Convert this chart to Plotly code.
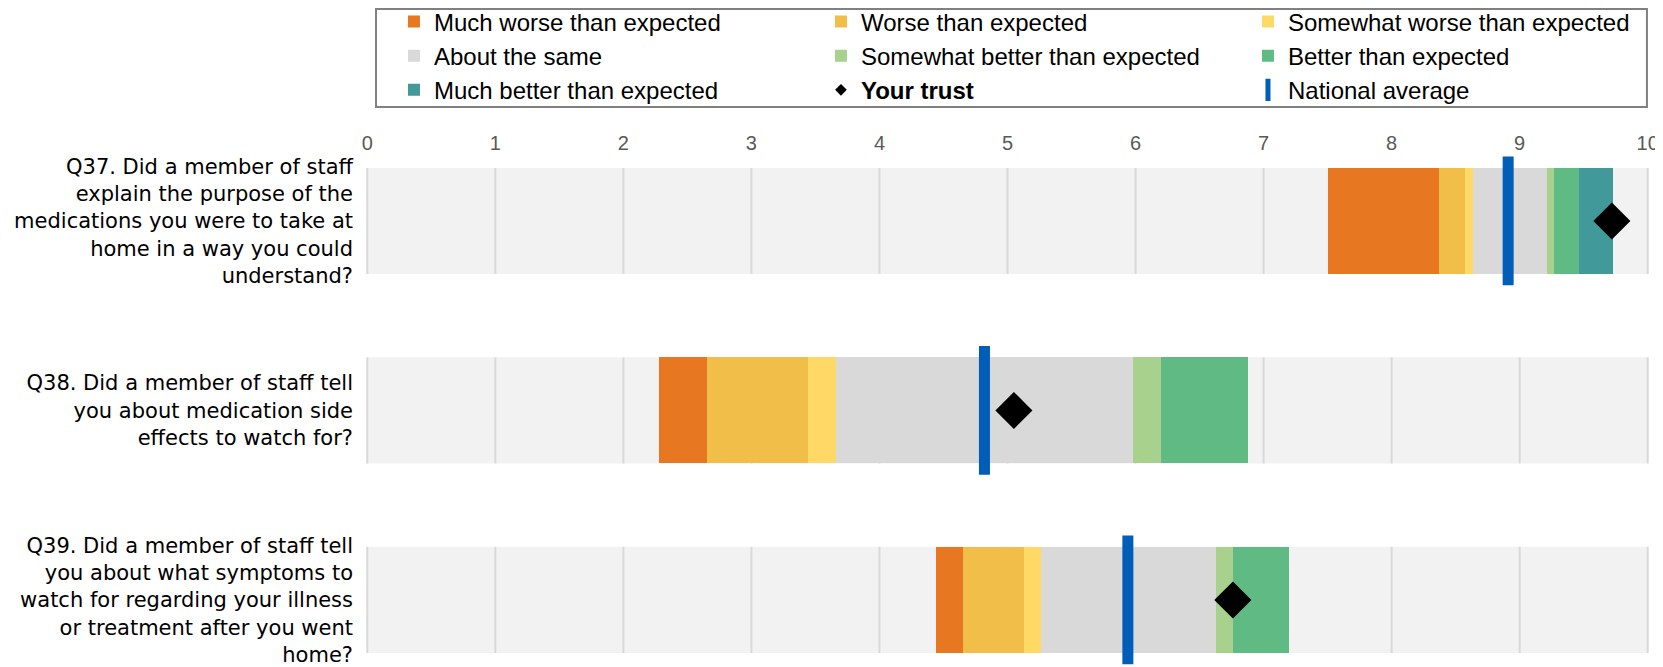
import plotly.graph_objects as go

# ---------------- data ----------------
questions = [
    "Q37. Did a member of staff<br>explain the purpose of the<br>medications you were to take at<br>home in a way you could<br>understand?",
    "Q38. Did a member of staff tell<br>you about medication side<br>effects to watch for?",
    "Q39. Did a member of staff tell<br>you about what symptoms to<br>watch for regarding your illness<br>or treatment after you went<br>home?",
]
band_start = [7.50, 2.28, 4.44]          # where the 'much worse' band begins
much_worse = [0.87, 0.37, 0.21]
worse = [0.20, 0.79, 0.48]
somewhat_worse = [0.065, 0.22, 0.13]
about_same = [0.575, 2.32, 1.365]
somewhat_better = [0.055, 0.22, 0.135]
better = [0.20, 0.675, 0.44]
much_better = [0.265, 0.0, 0.0]
your_trust = [9.72, 5.05, 6.76]
national_average = [8.91, 4.82, 5.94]
x_ticks = list(range(0, 11))

series = [
    ("Much worse than expected", much_worse, "#E87722"),
    ("Worse than expected", worse, "#F1BE4A"),
    ("Somewhat worse than expected", somewhat_worse, "#FFD966"),
    ("About the same", about_same, "#D9D9D9"),
    ("Somewhat better than expected", somewhat_better, "#A9D18E"),
    ("Better than expected", better, "#5FBB83"),
    ("Much better than expected", much_better, "#41999A"),
]

FONT = "Liberation Sans, Arial, sans-serif"
LABEL_FONT = "DejaVu Sans, Arial, sans-serif"
BAR_W = 0.56
LINE_H = 0.34
ypos = list(range(len(questions)))

fig = go.Figure()

base = list(band_start)
for name, vals, col in series:
    fig.add_trace(go.Bar(
        y=ypos, x=vals, base=list(base), orientation="h", name=name,
        marker=dict(color=col, line=dict(width=0)), width=BAR_W,
    ))
    base = [b + v for b, v in zip(base, vals)]

# national average vertical lines
nx, ny = [], []
for i, v in enumerate(national_average):
    nx += [v, v, None]
    ny += [i - LINE_H, i + LINE_H, None]
fig.add_trace(go.Scatter(x=nx, y=ny, mode="lines", line=dict(color="#005EB8", width=11),
                         showlegend=False, hoverinfo="skip"))

# your trust diamonds
fig.add_trace(go.Scatter(x=your_trust, y=ypos, mode="markers",
                         marker=dict(symbol="diamond", size=28.5, color="black"),
                         showlegend=False))

# legend-only entries
fig.add_trace(go.Scatter(x=[None], y=[None], mode="markers", name="<b>Your trust</b>",
                         marker=dict(symbol="diamond", size=9, color="black")))
fig.add_trace(go.Scatter(x=[None], y=[None], mode="markers", name="National average",
                         marker=dict(symbol="line-ns", size=16,
                                     line=dict(width=5, color="#005EB8"))))

# background bands and in-band gridlines
shapes = []
for i in ypos:
    shapes.append(dict(type="rect", xref="x", yref="y", layer="below",
                       x0=x_ticks[0], x1=x_ticks[-1], y0=i - BAR_W / 2, y1=i + BAR_W / 2,
                       fillcolor="#F2F2F2", line=dict(width=0)))
for i in ypos:
    for k in x_ticks:
        shapes.append(dict(type="line", xref="x", yref="y", layer="below",
                           x0=k, x1=k, y0=i - BAR_W / 2, y1=i + BAR_W / 2,
                           line=dict(color="#D9D9D9", width=2)))
# legend frame
shapes.append(dict(type="rect", xref="paper", yref="paper", layer="below",
                   x0=0.0078, x1=0.9984, y0=1.0938, y1=1.2852,
                   line=dict(color="#808080", width=2), fillcolor="rgba(0,0,0,0)"))

fig.update_layout(
    width=1655, height=659,
    margin=dict(l=358, r=14, t=147, b=0, autoexpand=False),
    paper_bgcolor="white", plot_bgcolor="white",
    barmode="overlay", bargap=0,
    shapes=shapes,
    font=dict(family=FONT, color="black"),
    showlegend=True,
    legend=dict(
        orientation="h", x=0.0218, xanchor="left", y=1.304, yanchor="top",
        entrywidth=382, entrywidthmode="pixels",
        font=dict(size=24, color="black", family=FONT),
        borderwidth=0, bgcolor="rgba(0,0,0,0)",
        traceorder="normal",
    ),
    xaxis=dict(range=[-0.01, 10.01], side="top", tickvals=x_ticks, automargin=False,
               showgrid=False, zeroline=False, showline=False, ticks="",
               tickfont=dict(size=20, color="#595959", family=FONT)),
    yaxis=dict(range=[2.354, -0.348], tickvals=ypos, ticktext=questions, automargin=False,
               showgrid=False, zeroline=False, showline=False, ticks="",
               ticklabelstandoff=12,
               tickfont=dict(size=21, color="black", family=LABEL_FONT)),
)

fig.write_html("out.html")
